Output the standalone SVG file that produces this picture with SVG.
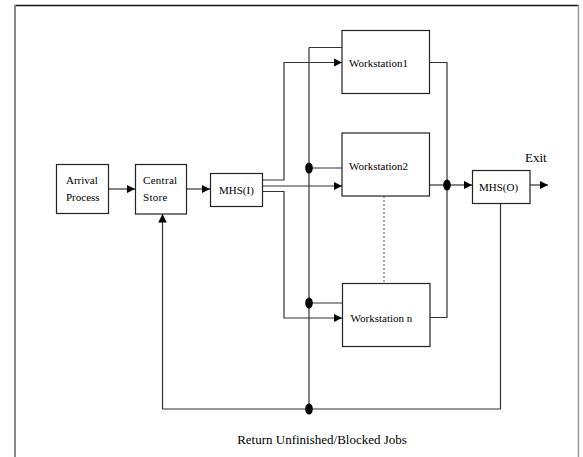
<svg xmlns="http://www.w3.org/2000/svg" width="583" height="457" viewBox="0 0 583 457">
  <style>
    .box { fill: #ffffff; stroke: #222; stroke-width: 1.2; }
    .wire { fill: none; stroke: #333; stroke-width: 1.2; }
    .arr { fill: none; stroke: #333; stroke-width: 1.2; marker-end: url(#tip); }
    .dot { fill: #000; }
    .lbl { font-family: "Liberation Serif", "Times New Roman", serif; font-size: 11px; fill: #000; }
    .big { font-family: "Liberation Serif", "Times New Roman", serif; font-size: 13px; fill: #000; }
  </style>
  <defs>
    <marker id="tip" viewBox="0 0 10 10" refX="10" refY="5" markerWidth="8.5" markerHeight="8.5" markerUnits="userSpaceOnUse" orient="auto">
      <path d="M0,0 L10,5 L0,10 z" fill="#000"/>
    </marker>
  </defs>

  <!-- page frame -->
  <g id="frame">
    <line x1="14.5" y1="5.5" x2="578.5" y2="5.5" stroke="#111" stroke-width="1.5"/>
    <line x1="15" y1="5" x2="15" y2="457" stroke="#888" stroke-width="2"/>
    <line x1="578.5" y1="5" x2="578.5" y2="457" stroke="#999" stroke-width="1.5"/>
  </g>

  <!-- connectors -->
  <g id="connectors">
    <line class="arr" x1="108" y1="189" x2="135" y2="189"/>
    <line class="arr" x1="187" y1="189" x2="210" y2="189"/>
    <!-- MHS(I) to workstations -->
    <polyline class="arr" points="263,180 284,180 284,62.5 342,62.5"/>
    <line class="arr" x1="263" y1="186" x2="342" y2="186"/>
    <polyline class="arr" points="263,191.5 284,191.5 284,318 342,318"/>
    <!-- return bus from workstations -->
    <line class="wire" x1="309" y1="47.5" x2="342" y2="47.5"/>
    <line class="wire" x1="309" y1="47.5" x2="309" y2="409"/>
    <line class="wire" x1="309" y1="168" x2="342" y2="168"/>
    <line class="wire" x1="309" y1="303" x2="342" y2="303"/>
    <!-- workstation outputs -->
    <polyline class="wire" points="430,62.5 447,62.5 447,317.5 430,317.5"/>
    <line class="wire" x1="430" y1="185" x2="447" y2="185"/>
    <line class="arr" x1="447" y1="185" x2="472" y2="185"/>
    <line class="arr" x1="530" y1="185" x2="548" y2="185"/>
    <!-- dotted continuation between workstation 2 and n -->
    <line x1="384" y1="196" x2="384" y2="283" stroke="#555" stroke-width="1" stroke-dasharray="2,2"/>
    <!-- return line -->
    <line class="wire" x1="500.5" y1="203" x2="500.5" y2="409"/>
    <line class="wire" x1="162.5" y1="409" x2="500.5" y2="409"/>
    <line class="arr" x1="162.5" y1="409" x2="162.5" y2="214"/>
    <!-- junction dots -->
    <ellipse class="dot" cx="309" cy="168" rx="3.8" ry="5.5"/>
    <ellipse class="dot" cx="309" cy="303" rx="3.8" ry="5.5"/>
    <ellipse class="dot" cx="309" cy="409" rx="3.8" ry="5.5"/>
    <ellipse class="dot" cx="447" cy="185" rx="3.8" ry="5.5"/>
  </g>

  <g id="arrival">
    <rect class="box" x="56.5" y="164.5" width="52" height="49"/>
    <text class="lbl" x="66" y="183.5">Arrival</text>
    <text class="lbl" x="66" y="201">Process</text>
  </g>
  <g id="central-store">
    <rect class="box" x="135.5" y="164.5" width="51" height="49.5"/>
    <text class="lbl" x="143" y="183.5" letter-spacing="0.3">Central</text>
    <text class="lbl" x="143" y="201" letter-spacing="0.3">Store</text>
  </g>
  <g id="mhs-in">
    <rect class="box" x="210.5" y="173.5" width="52" height="33"/>
    <text class="lbl" x="219" y="194">MHS(I)</text>
  </g>
  <g id="ws1">
    <rect class="box" x="342" y="30.5" width="87.5" height="63"/>
    <text class="lbl" x="349" y="66.5">Workstation1</text>
  </g>
  <g id="ws2">
    <rect class="box" x="342" y="133" width="87.5" height="63"/>
    <text class="lbl" x="349" y="169.5">Workstation2</text>
  </g>
  <g id="wsn">
    <rect class="box" x="342.5" y="283.5" width="87.5" height="63"/>
    <text class="lbl" x="350.5" y="321.5">Workstation n</text>
  </g>
  <g id="mhs-out">
    <rect class="box" x="472.5" y="170.5" width="57.5" height="33"/>
    <text class="lbl" x="479" y="191">MHS(O)</text>
  </g>
  <g id="labels">
    <text class="big" x="525" y="161.5">Exit</text>
    <text class="big" x="322" y="443.5" text-anchor="middle">Return Unfinished/Blocked Jobs</text>
  </g>
</svg>
